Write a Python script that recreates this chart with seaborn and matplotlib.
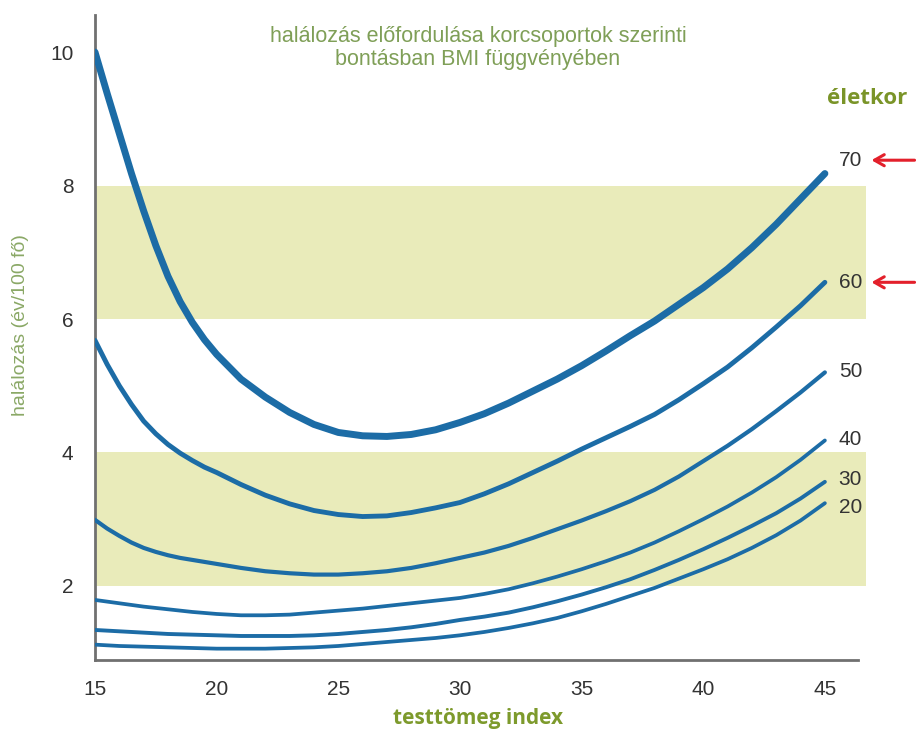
import matplotlib.pyplot as plt
import pandas as pd
import seaborn as sns

bmi = [15, 15.5, 16, 16.5, 17, 17.5, 18, 18.5, 19, 19.5, 20,
       21, 22, 23, 24, 25, 26, 27, 28, 29, 30, 31, 32, 33, 34, 35,
       36, 37, 38, 39, 40, 41, 42, 43, 44, 45]

# mortality (year / 100 persons) per age group
age_70 = [10.0, 9.38, 8.78, 8.18, 7.62, 7.1, 6.64, 6.26, 5.95, 5.69, 5.47,
          5.1, 4.83, 4.6, 4.42, 4.3, 4.25, 4.24, 4.27, 4.34, 4.45, 4.58, 4.74,
          4.92, 5.1, 5.3, 5.52, 5.75, 5.97, 6.22, 6.47, 6.75, 7.07, 7.42, 7.8, 8.18]
age_60 = [5.68, 5.32, 5.0, 4.72, 4.47, 4.28, 4.12, 3.99, 3.88, 3.78, 3.7,
          3.52, 3.36, 3.23, 3.13, 3.07, 3.04, 3.05, 3.1, 3.17, 3.25, 3.38, 3.53,
          3.7, 3.87, 4.05, 4.22, 4.39, 4.57, 4.79, 5.03, 5.28, 5.57, 5.88, 6.2, 6.55]
age_50 = [2.99, 2.86, 2.75, 2.65, 2.57, 2.51, 2.46, 2.42, 2.39, 2.36, 2.33,
          2.27, 2.22, 2.19, 2.17, 2.17, 2.19, 2.22, 2.27, 2.34, 2.42, 2.5, 2.6,
          2.72, 2.85, 2.98, 3.12, 3.27, 3.44, 3.64, 3.87, 4.1, 4.35, 4.62, 4.9, 5.2]
age_40 = [1.79, 1.765, 1.74, 1.715, 1.69, 1.67, 1.65, 1.63, 1.61, 1.595, 1.58,
          1.56, 1.56, 1.57, 1.6, 1.63, 1.66, 1.7, 1.74, 1.78, 1.82, 1.88, 1.95,
          2.04, 2.14, 2.25, 2.37, 2.5, 2.65, 2.82, 3.0, 3.19, 3.4, 3.63, 3.89, 4.18]
age_30 = [1.34, 1.33, 1.32, 1.31, 1.3, 1.29, 1.28, 1.275, 1.27, 1.265, 1.26,
          1.25, 1.25, 1.25, 1.26, 1.28, 1.31, 1.34, 1.38, 1.43, 1.49, 1.54, 1.6,
          1.68, 1.77, 1.87, 1.98, 2.1, 2.24, 2.39, 2.55, 2.72, 2.9, 3.09, 3.31, 3.56]
age_20 = [1.12, 1.11, 1.1, 1.095, 1.09, 1.085, 1.08, 1.075, 1.07, 1.065, 1.06,
          1.06, 1.06, 1.07, 1.08, 1.1, 1.13, 1.16, 1.19, 1.22, 1.26, 1.31, 1.37,
          1.44, 1.52, 1.62, 1.73, 1.85, 1.97, 2.11, 2.25, 2.4, 2.57, 2.76, 2.98, 3.24]

ages = ['70', '60', '50', '40', '30', '20']
series = [age_70, age_60, age_50, age_40, age_30, age_20]
label_y = [8.38, 6.55, 5.21, 4.2, 3.6, 3.18]
widths = [5, 3.5, 3, 2.7, 2.8, 2.7]
bands = [(2, 4), (6, 8)]

GREEN = '#7f9f57'
BLUE = '#1c6ca6'

df = pd.DataFrame({'bmi': bmi * len(ages),
                   'rate': sum(series, []),
                   'age': [a for a in ages for _ in bmi]})

sns.set_style('white')
plt.rcParams['font.family'] = ['Liberation Sans', 'DejaVu Sans']

fig = plt.figure(figsize=(9.16, 7.38), dpi=100)
ax = fig.add_axes([95 / 916, 78 / 738, 771 / 916, 645 / 738])

for lo, hi in bands:
    ax.axhspan(lo, hi, color='#e9ebba', lw=0, zorder=0)

for age, lw in zip(ages, widths):
    sns.lineplot(data=df[df['age'] == age], x='bmi', y='rate', ax=ax,
                 color=BLUE, linewidth=lw, solid_capstyle='round', zorder=3)

ax.set_xlim(15, 46.69)
ax.set_ylim(0.89, 10.556)
ax.set_xticks([15, 20, 25, 30, 35, 40, 45])
ax.set_yticks([2, 4, 6, 8, 10])

for s in ['top', 'right']:
    ax.spines[s].set_visible(False)
for s in ['left', 'bottom']:
    ax.spines[s].set_color('#707070')
    ax.spines[s].set_linewidth(2)
ax.spines['bottom'].set_bounds(15, 46.36)
ax.tick_params(axis='both', direction='out', length=7.5, width=1.6,
               color='#707070', labelcolor='#333333')
ax.tick_params(axis='y', labelsize=15, pad=8)
ax.tick_params(axis='x', labelsize=15, pad=7)
for t in ax.get_xticklabels():
    t.set_family(['Liberation Sans Narrow', 'Liberation Sans'])

ax.set_xlabel('testtömeg index', fontsize=15, color='#7d9a2c',
              fontweight='bold', family=['Open Sans', 'DejaVu Sans'])
ax.xaxis.set_label_coords(0.497, -0.074)
ax.set_ylabel('halálozás (év/100 fő)', fontsize=14, color='#8aa866')
ax.yaxis.set_label_coords(-0.085, 0.519)

fig.text(478 / 916, 1 - 48 / 738,
         'halálozás előfordulása korcsoportok szerinti\nbontásban BMI függvényében',
         ha='center', va='center', fontsize=15.5, color=GREEN, linespacing=1.15)

ax.text(46.72, 9.3, 'életkor', fontsize=16, fontweight='bold', color='#7a9428',
        family=['Open Sans', 'DejaVu Sans'], ha='center', va='center',
        clip_on=False)

for age, y in zip(ages, label_y):
    ax.text(46.05, y, age, fontsize=15, color='#333333', ha='center',
            va='center', clip_on=False)

for y in label_y[:2]:
    ax.annotate('', xy=(46.8, y), xytext=(48.8, y), xycoords='data',
                annotation_clip=False,
                arrowprops=dict(arrowstyle='->,head_length=0.7,head_width=0.4',
                                color='#e3202b', lw=2.2))

fig.savefig('out.png', dpi=100)
